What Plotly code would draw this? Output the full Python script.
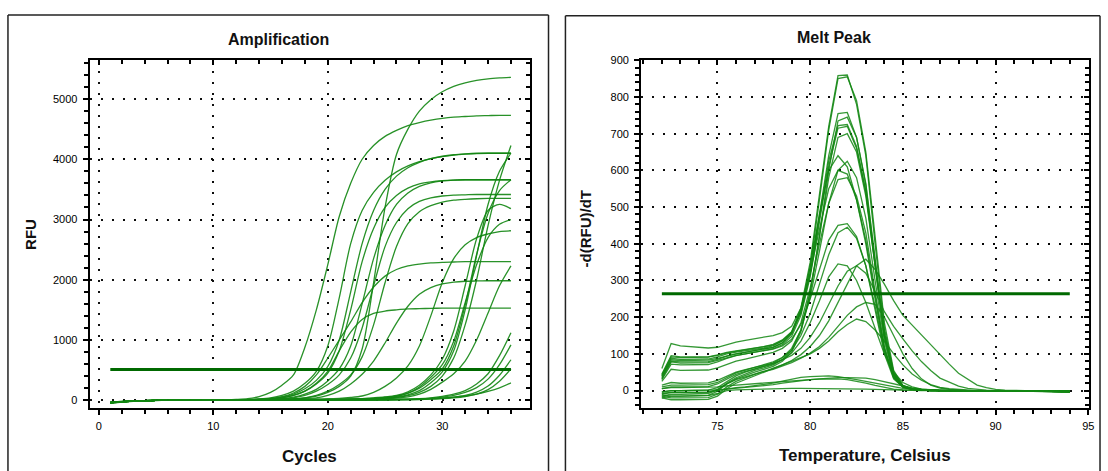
import plotly.graph_objects as go

# ---------------------------------------------------------------- data
# Amplification: RFU per cycle (cycles 1..36), one list per well
CYCLES = list(range(1, 37))

AMP_A = [-40, -25, -15, -8, -4, -2, 0, 2, 4,
         6, 9, 14, 25, 60, 130, 250, 420, 880,
         1500, 2250, 3050, 3600, 4000, 4230, 4380, 4480, 4560,
         4610, 4650, 4680, 4700, 4710, 4720, 4725, 4730, 4730]
AMP_B = [-40, -25, -15, -8, -4, -2, 0, 0, 0,
         0, 2, 4, 6, 9, 12, 15, 20, 40,
         70, 130, 230, 400, 850, 1950, 3200, 4080, 4500,
         4800, 4990, 5120, 5210, 5270, 5310, 5335, 5350, 5360]
AMP_C = [-40, -25, -15, -8, -4, -2, 0, 0, 0,
         0, 2, 4, 8, 20, 40, 80, 150, 280,
         480, 900, 1700, 2600, 3150, 3450, 3650, 3790, 3890,
         3960, 4010, 4045, 4070, 4085, 4095, 4100, 4100, 4100]
AMP_D = [-35, -22, -12, -6, -3, -1, 0, 0, 0,
         0, 0, 2, 5, 12, 25, 50, 100, 190,
         330, 560, 1000, 1800, 2600, 3150, 3500, 3720, 3860,
         3950, 4010, 4050, 4075, 4090, 4100, 4100, 4100, 4100]
AMP_E = [-45, -28, -16, -9, -4, -2, 0, 0, 0,
         0, 0, 2, 5, 10, 20, 40, 80, 150,
         270, 450, 820, 1500, 2300, 2850, 3200, 3400, 3520,
         3590, 3625, 3645, 3655, 3660, 3660, 3660, 3660, 3660]
AMP_F = [-40, -25, -15, -8, -4, -2, 0, 0, 0,
         0, 0, 0, 2, 6, 12, 25, 50, 100,
         180, 320, 520, 900, 1600, 2350, 2900, 3250, 3440,
         3550, 3610, 3640, 3655, 3660, 3660, 3660, 3660, 3660]
AMP_G = [-30, -20, -12, -6, -3, -1, 0, 0, 0,
         0, 0, 0, 2, 5, 10, 20, 40, 80,
         150, 260, 420, 700, 1200, 1900, 2550, 2950, 3180,
         3300, 3360, 3390, 3405, 3410, 3415, 3415, 3415, 3415]
AMP_H = [-40, -25, -15, -8, -4, -2, 0, 0, 0,
         0, 0, 0, 0, 2, 6, 12, 22, 40,
         80, 150, 260, 420, 720, 1250, 1950, 2550, 2930,
         3130, 3230, 3290, 3320, 3335, 3345, 3350, 3350, 3350]
AMP_I = [-50, -30, -18, -10, -5, -2, 0, 0, 0,
         0, 2, 5, 10, 18, 30, 60, 120, 230,
         420, 700, 1000, 1300, 1620, 1880, 2060, 2170, 2230,
         2260, 2280, 2290, 2295, 2300, 2300, 2300, 2300, 2300]
AMP_J = [-40, -25, -15, -8, -4, -2, 0, 0, 0,
         0, 2, 4, 8, 14, 20, 40, 80, 150,
         280, 480, 820, 1130, 1340, 1440, 1480, 1500, 1515,
         1520, 1525, 1528, 1530, 1530, 1530, 1530, 1530, 1530]
AMP_K = [-35, -22, -12, -6, -3, -1, 0, 0, 0,
         0, 0, 0, 0, 2, 5, 10, 20, 30,
         40, 80, 150, 270, 430, 650, 950, 1280, 1560,
         1760, 1870, 1930, 1960, 1975, 1980, 1983, 1983, 1983]
AMP_L = [-40, -25, -15, -8, -4, -2, 0, 0, 0,
         0, 0, 0, 0, 0, 2, 5, 10, 15,
         20, 25, 30, 45, 70, 130, 230, 370, 570,
         900, 1400, 1950, 2350, 2580, 2700, 2760, 2800, 2813]
AMP_M = [-40, -25, -15, -8, -4, -2, 0, 0, 0,
         0, 0, 0, 0, 0, 0, 2, 4, 6,
         8, 10, 12, 15, 20, 25, 30, 45, 75,
         130, 230, 400, 700, 1250, 2000, 2900, 3650, 4230]
AMP_N = [-45, -28, -16, -9, -4, -2, 0, 0, 0,
         0, 0, 0, 0, 0, 0, 2, 3, 4,
         6, 8, 10, 14, 18, 25, 35, 50, 90,
         160, 290, 470, 820, 1500, 2400, 3250, 3800, 4100]
AMP_O = [-40, -25, -15, -8, -4, -2, 0, 0, 0,
         0, 0, 0, 0, 0, 0, 1, 2, 3,
         5, 8, 12, 16, 22, 30, 45, 65, 115,
         200, 340, 520, 900, 1580, 2420, 3100, 3480, 3660]
AMP_P = [-35, -22, -12, -6, -3, -1, 0, 0, 0,
         0, 0, 0, 0, 0, 1, 2, 3, 4,
         6, 10, 14, 20, 28, 40, 55, 80, 140,
         250, 420, 680, 1150, 1900, 2680, 3150, 3250, 3180]
AMP_Q = [-40, -25, -15, -8, -4, -2, 0, 0, 0,
         0, 0, 0, 0, 0, 0, 1, 2, 3,
         5, 8, 12, 16, 22, 30, 45, 70, 120,
         220, 380, 590, 980, 1620, 2250, 2700, 2920, 3000]
AMP_R = [-30, -20, -12, -6, -3, -1, 0, 0, 0,
         0, 0, 0, 0, 0, 0, 0, 1, 2,
         3, 5, 8, 10, 14, 18, 25, 35, 55,
         100, 180, 300, 440, 650, 1000, 1450, 1900, 2230]
AMP_T = [-40, -25, -15, -8, -4, -2, 0, 0, 0,
         0, 0, 0, 0, 0, 0, 0, 0, 0,
         0, 0, 2, 4, 6, 8, 10, 14, 18,
         25, 40, 65, 100, 160, 270, 440, 740, 1120]
AMP_U = [-40, -25, -15, -8, -4, -2, 0, 0, 0,
         0, 0, 0, 0, 0, 0, 0, 0, 0,
         0, 0, 0, 2, 4, 6, 8, 10, 14,
         20, 30, 50, 80, 130, 210, 350, 590, 918]
AMP_V = [-45, -28, -16, -9, -4, -2, 0, 0, 0,
         0, 0, 0, 0, 0, 0, 0, 0, 0,
         0, 0, 0, 0, 2, 4, 6, 8, 10,
         15, 22, 32, 50, 80, 135, 235, 415, 672]
AMP_W = [-40, -25, -15, -8, -4, -2, 0, 0, 0,
         0, 0, 0, 0, 0, 0, 0, 0, 0,
         0, 0, 0, 0, 0, 2, 4, 6, 8,
         12, 18, 26, 40, 62, 100, 175, 315, 520]
AMP_X = [-35, -22, -12, -6, -3, -1, 0, 0, 0,
         0, 0, 0, 0, 0, 0, 0, 0, 0,
         2, 3, 4, 5, 6, 8, 10, 13, 17,
         22, 30, 40, 52, 70, 100, 145, 205, 289]

AMP_WELLS = [AMP_A, AMP_B, AMP_C, AMP_D, AMP_E, AMP_F, AMP_G, AMP_H,
             AMP_I, AMP_J, AMP_K, AMP_L, AMP_M, AMP_N, AMP_O, AMP_P,
             AMP_Q, AMP_R, AMP_T, AMP_U, AMP_V, AMP_W, AMP_X]
AMP_THRESHOLD = 508

# Melt peak: -d(RFU)/dT every 0.5 degC from 72 to 94
TEMPS = [72.0, 72.5, 73.0, 73.5, 74.0, 74.5, 75.0,
         75.5, 76.0, 76.5, 77.0, 77.5, 78.0, 78.5, 79.0,
         79.5, 80.0, 80.5, 81.0, 81.5, 82.0, 82.5, 83.0,
         83.5, 84.0, 84.5, 85.0, 85.5, 86.0, 86.5, 87.0,
         87.5, 88.0, 88.5, 89.0, 89.5, 90.0, 90.5, 91.0, 91.5, 92.0, 92.5, 93.0, 93.5, 94.0]

MELT_01 = [40, 88, 85, 85, 85, 86, 92,
           100, 105, 108, 112, 116, 122, 135, 160,
           225, 350, 530, 720, 858, 860, 780, 640,
           400, 170, 50, 12, 4, 2, 1, 1,
           0, 0, 0, 0, 0, 0, -1, -1, -2, -2, -2, -3, -3, -3]
MELT_02 = [35, 80, 78, 78, 78, 79, 85,
           94, 100, 104, 108, 112, 118, 130, 155,
           215, 335, 520, 710, 850, 855, 790, 650,
           420, 185, 55, 14, 5, 2, 1, 0,
           0, 0, 0, 0, -1, -1, -1, -2, -2, -2, -3, -3, -3, -4]
MELT_03 = [45, 95, 92, 92, 91, 92, 97,
           104, 108, 112, 115, 120, 126, 138, 160,
           215, 320, 480, 640, 755, 758, 690, 560,
           350, 150, 45, 12, 4, 2, 1, 0,
           0, 0, 0, 0, 0, -1, -1, -1, -2, -2, -2, -2, -3, -3]
MELT_04 = [30, 72, 70, 70, 70, 71, 78,
           88, 95, 100, 104, 108, 114, 125, 148,
           205, 310, 460, 610, 715, 720, 660, 540,
           340, 150, 45, 12, 4, 2, 1, 0,
           0, 0, 0, 0, 0, 0, -1, -1, -1, -2, -2, -2, -3, -3]
MELT_05 = [-15, -10, -10, -10, -10, -8, 2,
           20, 35, 45, 55, 62, 70, 85, 110,
           165, 270, 420, 580, 690, 700, 650, 530,
           340, 150, 45, 12, 4, 2, 1, 0,
           0, 0, 0, 0, 0, -1, -1, -1, -2, -2, -2, -3, -3, -3]
MELT_06 = [38, 84, 82, 82, 82, 83, 88,
           95, 100, 104, 108, 112, 118, 130, 155,
           220, 340, 480, 600, 640, 610, 520, 400,
           250, 110, 35, 10, 3, 1, 0, 0,
           0, 0, 0, 0, 0, -1, -1, -1, -1, -2, -2, -2, -3, -3]
MELT_07 = [-5, 0, 0, 0, 0, 1, 8,
           25, 40, 50, 58, 66, 75, 90, 115,
           165, 255, 380, 510, 600, 625, 580, 470,
           300, 135, 40, 10, 3, 1, 0, 0,
           0, 0, 0, 0, 0, 0, -1, -1, -1, -2, -2, -2, -2, -3]
MELT_08 = [60, 128, 122, 120, 118, 116, 118,
           126, 132, 137, 142, 146, 150, 158, 175,
           225, 320, 440, 550, 600, 590, 520, 410,
           260, 115, 35, 10, 3, 1, 0, 0,
           0, 0, 0, 0, 0, 0, -1, -1, -1, -2, -2, -2, -3, -3]
MELT_09 = [25, 58, 55, 55, 55, 56, 62,
           72, 80, 86, 92, 98, 104, 115, 135,
           185, 280, 400, 510, 575, 580, 530, 430,
           270, 120, 38, 10, 3, 1, 0, 0,
           0, 0, 0, 0, 0, -1, -1, -1, -2, -2, -2, -2, -3, -3]
MELT_10 = [32, 78, 75, 75, 75, 76, 82,
           90, 96, 100, 104, 108, 113, 122, 140,
           180, 250, 330, 410, 450, 455, 420, 340,
           220, 100, 32, 9, 3, 1, 0, 0,
           0, 0, 0, 0, 0, 0, -1, -1, -1, -1, -2, -2, -2, -2]
MELT_11 = [10, 15, 15, 15, 15, 16, 22,
           35, 48, 56, 63, 70, 78, 90, 110,
           150, 210, 290, 370, 430, 445, 415, 340,
           230, 110, 40, 12, 4, 1, 0, 0,
           0, 0, 0, 0, 0, 0, -1, -1, -1, -2, -2, -2, -2, -3]
MELT_12 = [-15, -20, -20, -20, -20, -19, -10,
           10, 25, 35, 44, 52, 60, 70, 82,
           98, 120, 150, 190, 240, 290, 340, 358,
           330, 290, 245, 205, 178, 151, 124, 97,
           72, 47, 30, 15, 8, 3, 1, 0, -1, -1, -2, -2, -2, -3]
MELT_13 = [5, 10, 10, 10, 10, 11, 18,
           32, 44, 52, 58, 65, 72, 84, 102,
           135, 185, 245, 310, 345, 340, 300, 240,
           170, 100, 50, 22, 10, 4, 2, 1,
           0, 0, 0, 0, 0, 0, 0, -1, -1, -1, -2, -2, -2, -2]
MELT_14 = [15, 22, 20, 20, 20, 21, 28,
           40, 50, 57, 63, 69, 75, 84, 96,
           115, 145, 185, 235, 285, 325, 340, 320,
           270, 215, 175, 141, 108, 79, 55, 34,
           22, 12, 6, 3, 1, 0, 0, -1, -1, -1, -2, -2, -2, -2]
MELT_15 = [-10, -5, -5, -5, -5, -4, 3,
           18, 30, 38, 45, 52, 58, 66, 76,
           88, 102, 120, 145, 175, 205, 228, 240,
           235, 200, 150, 100, 60, 32, 15, 7,
           3, 1, 0, 0, 0, 0, 0, -1, -1, -1, -1, -2, -2, -2]
MELT_16 = [-20, -25, -25, -25, -25, -24, -15,
           5, 20, 30, 40, 50, 60, 70, 80,
           90, 100, 115, 135, 160, 180, 195, 188,
           165, 135, 100, 70, 45, 28, 16, 9,
           5, 3, 1, 0, 0, 0, 0, -1, -1, -1, -1, -2, -2, -2]
MELT_17 = [-8, -5, -5, -5, -5, -4, 0,
           5, 8, 10, 13, 16, 20, 26, 32,
           36, 38, 40, 40, 38, 35, 30, 25,
           20, 15, 10, 6, 3, 1, 0, 0,
           0, 0, 0, 0, 0, 0, 0, 0, -1, -1, -1, -1, -1, -1]
MELT_18 = [-3, 0, 0, 0, 0, 0, 2,
           4, 6, 8, 10, 13, 16, 20, 24,
           27, 30, 32, 34, 35, 35, 35, 34,
           30, 24, 17, 11, 7, 4, 2, 1,
           0, 0, 0, 0, 0, 0, 0, 0, -1, -1, -1, -1, -1, -1]
MELT_19 = [5, 8, 8, 8, 8, 8, 10,
           13, 15, 17, 19, 21, 23, 25, 27,
           29, 30, 31, 32, 32, 30, 26, 20,
           14, 8, 4, 2, 1, 0, 0, 0,
           0, 0, 0, 0, 0, 0, 0, 0, 0, -1, -1, -1, -1, -1]
MELT_20 = [-12, -15, -15, -15, -15, -14, -8,
           0, 2, 3, 4, 5, 5, 6, 6,
           6, 6, 6, 6, 6, 5, 5, 4,
           3, 2, 1, 1, 0, 0, 0, 0,
           0, 0, 0, 0, 0, 0, 0, 0, 0, 0, -1, -1, -1, -1]
MELT_21 = [42, 92, 90, 90, 90, 91, 96,
           103, 107, 111, 114, 118, 124, 136, 158,
           212, 318, 470, 625, 722, 725, 665, 545,
           345, 150, 45, 12, 4, 2, 1, 0,
           0, 0, 0, 0, 0, 0, -1, -1, -1, -2, -2, -2, -3, -3]
MELT_22 = [-20, -15, -15, -15, -15, -13, -2,
           18, 32, 42, 50, 58, 66, 80, 105,
           160, 265, 420, 600, 735, 745, 690, 565,
           360, 160, 48, 13, 4, 2, 1, 0,
           0, 0, 0, 0, 0, -1, -1, -1, -2, -2, -2, -2, -3, -3]

MELT_WELLS = [MELT_01, MELT_02, MELT_03, MELT_04, MELT_05, MELT_06, MELT_07,
              MELT_08, MELT_09, MELT_10, MELT_11, MELT_12, MELT_13, MELT_14,
              MELT_15, MELT_16, MELT_17, MELT_18, MELT_19, MELT_20, MELT_21, MELT_22]
MELT_THRESHOLD = 264

for well in AMP_WELLS:
    assert len(well) == len(CYCLES)
for well in MELT_WELLS:
    assert len(well) == len(TEMPS)

# ---------------------------------------------------------------- styling
W, H = 1108, 471
FONT = "Liberation Sans, Arial, sans-serif"
CURVE = "rgb(18,135,18)"
THRESH = "rgb(0,105,0)"


def fx(px):
    return px / W


def fy(py):
    return 1 - py / H


LEFT_X = [fx(90), fx(532)]
RIGHT_X = [fx(644), fx(1094)]
PLOT_Y = [fy(407), fy(55)]

AMP_XRANGE = [-0.81, 37.63]
AMP_YRANGE = [-126, 5643]
MELT_XRANGE = [70.88, 95.04]
MELT_YRANGE = [-47, 900]

fig = go.Figure()

for well in AMP_WELLS:
    fig.add_trace(go.Scatter(x=CYCLES, y=well, mode="lines",
                             line=dict(color=CURVE, width=1.3, shape="spline", smoothing=0.8),
                             opacity=0.9, xaxis="x", yaxis="y",
                             showlegend=False, hoverinfo="skip"))
fig.add_trace(go.Scatter(x=[CYCLES[0], CYCLES[-1]], y=[AMP_THRESHOLD, AMP_THRESHOLD],
                         mode="lines", line=dict(color=THRESH, width=3),
                         xaxis="x", yaxis="y", showlegend=False, hoverinfo="skip"))

for well in MELT_WELLS:
    fig.add_trace(go.Scatter(x=TEMPS, y=well, mode="lines",
                             line=dict(color=CURVE, width=1.3),
                             opacity=0.85, xaxis="x2", yaxis="y2",
                             showlegend=False, hoverinfo="skip"))
fig.add_trace(go.Scatter(x=[TEMPS[0], TEMPS[-1]], y=[MELT_THRESHOLD, MELT_THRESHOLD],
                         mode="lines", line=dict(color=THRESH, width=3),
                         xaxis="x2", yaxis="y2", showlegend=False, hoverinfo="skip"))

# empty traces that carry the inward tick marks on the top / right frame edges
fig.add_trace(go.Scatter(x=[None], y=[None], xaxis="x3", yaxis="y3",
                         showlegend=False, hoverinfo="skip"))
fig.add_trace(go.Scatter(x=[None], y=[None], xaxis="x4", yaxis="y4",
                         showlegend=False, hoverinfo="skip"))

tickfont = dict(family=FONT, size=11, color="#000000")
grid = dict(showgrid=True, gridcolor="#111111", gridwidth=2, griddash="2px,9px")


def main_axis(domain, rng, dtick, minor_dtick, tick0, anchor, standoff):
    return dict(domain=domain, range=rng, anchor=anchor, tickmode="linear",
                tick0=tick0, dtick=dtick, ticks="outside", ticklen=5, tickwidth=2,
                tickcolor="black", showline=True, linewidth=2, linecolor="black",
                mirror=True, zeroline=False, tickfont=tickfont,
                ticklabelstandoff=standoff,
                minor=dict(tick0=tick0, dtick=minor_dtick, ticks="outside", ticklen=4,
                           tickwidth=2, tickcolor="black", showgrid=False),
                **grid)


def inner_axis(rng, dtick, minor_dtick, tick0, overlay, anchor, side):
    return dict(range=rng, overlaying=overlay, anchor=anchor, side=side,
                tickmode="linear", tick0=tick0, dtick=dtick, ticks="inside",
                ticklen=5, tickwidth=2, tickcolor="black", showticklabels=False,
                showgrid=False, showline=False, zeroline=False,
                minor=dict(tick0=tick0, dtick=minor_dtick, ticks="inside", ticklen=4,
                           tickwidth=2, tickcolor="black", showgrid=False))


fig.update_layout(
    width=W, height=H,
    margin=dict(l=0, r=0, t=0, b=0),
    paper_bgcolor="white", plot_bgcolor="white",
    xaxis=main_axis(LEFT_X, AMP_XRANGE, 10, 2, 0, "y", 2),
    yaxis=main_axis(PLOT_Y, AMP_YRANGE, 1000, 200, 0, "x", 3),
    xaxis2=main_axis(RIGHT_X, MELT_XRANGE, 5, 1, 75, "y2", 2),
    yaxis2=main_axis(PLOT_Y, MELT_YRANGE, 100, 20, 0, "x2", 3),
    xaxis3=inner_axis(AMP_XRANGE, 10, 2, 0, "x", "y3", "top"),
    yaxis3=inner_axis(AMP_YRANGE, 1000, 200, 0, "y", "x3", "right"),
    xaxis4=inner_axis(MELT_XRANGE, 5, 1, 75, "x2", "y4", "top"),
    yaxis4=inner_axis(MELT_YRANGE, 100, 20, 0, "y2", "x4", "right"),
)

# panel frames (open at the bottom edge of the page)
frame = dict(color="#222222", width=1.5)
for x0, x1, top in [(8, 551, 9), (568, 1105, 10)]:
    fig.add_shape(type="line", xref="paper", yref="paper",
                  x0=fx(x0), x1=fx(x0), y0=fy(top), y1=-0.05, line=frame)
    fig.add_shape(type="line", xref="paper", yref="paper",
                  x0=fx(x1), x1=fx(x1), y0=fy(top), y1=-0.05, line=frame)
    fig.add_shape(type="line", xref="paper", yref="paper",
                  x0=fx(x0), x1=fx(x1), y0=fy(top), y1=fy(top), line=frame)

labels = [
    ("<b>Amplification</b>", 280, 34, 16, 0),
    ("<b>Melt Peak</b>", 838, 32, 16, 0),
    ("<b>Cycles</b>", 311, 456, 17, 0),
    ("<b>Temperature, Celsius</b>", 869, 455, 17, 0),
    ("<b>RFU</b>", 30, 231, 15, -90),
    ("<b>-d(RFU)/dT</b>", 588, 226, 15, -90),
]
for text, x, y, size, angle in labels:
    fig.add_annotation(text=text, xref="paper", yref="paper", x=fx(x), y=fy(y),
                       xanchor="center", yanchor="middle", showarrow=False,
                       textangle=angle, font=dict(family=FONT, size=size, color="#111111"))

fig.write_html("out.html")
